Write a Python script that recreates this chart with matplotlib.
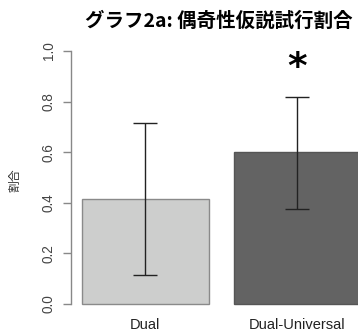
import numpy as np
import matplotlib.pyplot as plt

# 偶奇性仮説試行割合: mean and error range per condition
conditions = ["Dual", "Dual-Universal"]
means = [0.415, 0.600]
err_low = [0.115, 0.377]
err_high = [0.717, 0.819]
yticks = [0.0, 0.2, 0.4, 0.6, 0.8, 1.0]

fig = plt.figure(figsize=(3.58, 3.33), dpi=100)
# axes spans from the y axis line to the right edge of the figure
ax = fig.add_axes([71 / 358, (333 - 314.1) / 333, (358 - 71) / 358, 273.2 / 333])

x = np.array([0.7, 1.9])
ax.bar(x, means, width=1.0, color=["#cdcecd", "#636363"],
       edgecolor=["#8a8a8a", "#555555"], linewidth=1.0, zorder=1)

lo = np.array(means) - np.array(err_low)
hi = np.array(err_high) - np.array(means)
ax.errorbar(x, means, yerr=[lo, hi], fmt="none", ecolor="#222222",
            elinewidth=1.0, capsize=8.3, capthick=1.0, zorder=2)

# significance mark above the second condition
ax.text(x[1], err_high[1] + 0.115, "*", ha="center", va="center",
        fontsize=27, fontweight="bold", family="DejaVu Sans")

ax.set_xlim(0.113, 0.113 + (358 - 71) / 126.7)
ax.set_ylim(-0.04, 1.04)

for s in ["top", "right", "bottom"]:
    ax.spines[s].set_visible(False)
ax.spines["left"].set_bounds(0, 1)
ax.spines["left"].set_color("#888888")
ax.spines["left"].set_linewidth(1.0)

ax.set_yticks(yticks)
ax.set_yticklabels([f"{t:.1f}" for t in yticks], rotation=90, va="center",
                   family="Liberation Sans", fontsize=9.8, color="#444444")
ax.tick_params(axis="y", length=6, width=1.0, color="#888888", pad=5)

ax.set_xticks(x)
ax.set_xticklabels(conditions, family="Liberation Sans", fontsize=10.5, color="#222222")
ax.tick_params(axis="x", length=0, pad=2.5)

fig.text(219 / 358, 1 - 21 / 333, "グラフ2a: 偶奇性仮説試行割合", ha="center", va="center",
         family=["Noto Sans CJK JP", "DejaVu Sans"], fontsize=14.0, fontweight="bold")
fig.text(15 / 358, 1 - 180 / 333, "割合", ha="center", va="center", rotation=90,
         family=["Noto Sans CJK JP", "DejaVu Sans"], fontsize=8.5, color="#333333")

fig.savefig("out.png", dpi=100)
